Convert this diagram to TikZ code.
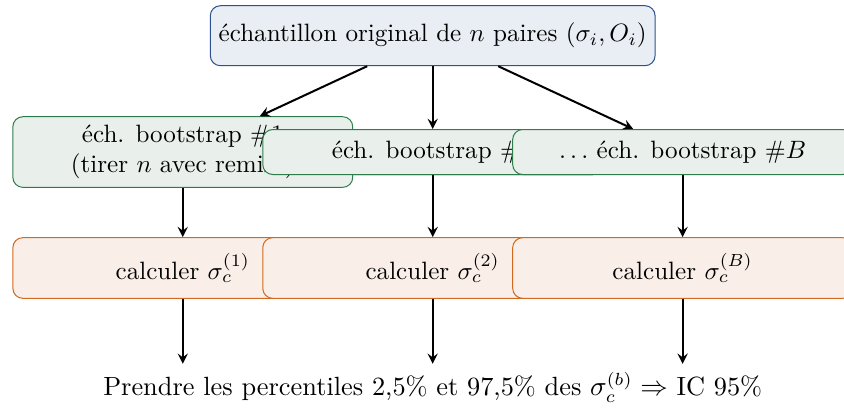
\documentclass[tikz,border=0pt]{standalone}
\usepackage{tikz}
\usetikzlibrary{arrows,positioning}

\definecolor{origfill}{HTML}{E8EEF4}
\definecolor{origdraw}{HTML}{2F4F8F}
\definecolor{bootfill}{HTML}{E9F0EB}
\definecolor{bootdraw}{HTML}{2E7D4F}
\definecolor{calcfill}{HTML}{FAEFE8}
\definecolor{calcdraw}{HTML}{D2691E}

\begin{document}
\begin{tikzpicture}[
    box/.style={draw, rounded corners, align=center},
    original/.style={box, fill=origfill, draw=origdraw, minimum height=0.84cm},
    sample/.style={box, fill=bootfill, draw=bootdraw, minimum width=4.76cm, minimum height=0.63cm},
    compute/.style={box, fill=calcfill, draw=calcdraw, minimum width=4.76cm, minimum height=0.85cm},
    arrow/.style={->, >=stealth, thick}
]

\useasboundingbox (0,0) rectangle (11.82,-5.71);

% Original sample
\node[original] (orig) at (6.06,-0.50) {échantillon original de $n$ paires $(\sigma_i, O_i)$};

% Bootstrap samples
\node[sample, below=0.88cm of orig] (boot2) {éch. bootstrap \#2};
\node[sample] (boot1) at ([xshift=-3.5cm]boot2) {éch. bootstrap \#1\\(tirer $n$ avec remise)};
\node[sample] (boot2) at (boot2) {éch. bootstrap \#2};
\node[sample] (bootB) at ([xshift=3.5cm]boot2) {$\ldots$ éch. bootstrap \#$B$};

% Statistic on each sample
\node[compute, below=0.87cm of boot2] (calc2) {calculer $\sigma_c^{(2)}$};
\node[compute] (calc1) at ([xshift=-3.5cm]calc2) {calculer $\sigma_c^{(1)}$};
\node[compute] (calc2) at (calc2) {calculer $\sigma_c^{(2)}$};
\node[compute] (calcB) at ([xshift=3.5cm]calc2) {calculer $\sigma_c^{(B)}$};

% Result
\node[below=0.91cm of calc2, font=\fontsize{10.5pt}{12.6pt}\selectfont] (result) {Prendre les percentiles 2,5\% et 97,5\% des $\sigma_c^{(b)} \Rightarrow$ IC 95\%};

% Connections
\draw[arrow] (orig) -- (boot1);
\draw[arrow] (orig) -- (boot2);
\draw[arrow] (orig) -- (bootB);

\draw[arrow] (boot1) -- (calc1);
\draw[arrow] (boot2) -- (calc2);
\draw[arrow] (bootB) -- (calcB);

\draw[arrow] (calc1) -- (calc1 |- result.north);
\draw[arrow] (calc2) -- (calc2 |- result.north);
\draw[arrow] (calcB) -- (calcB |- result.north);

\end{tikzpicture}
\end{document}
